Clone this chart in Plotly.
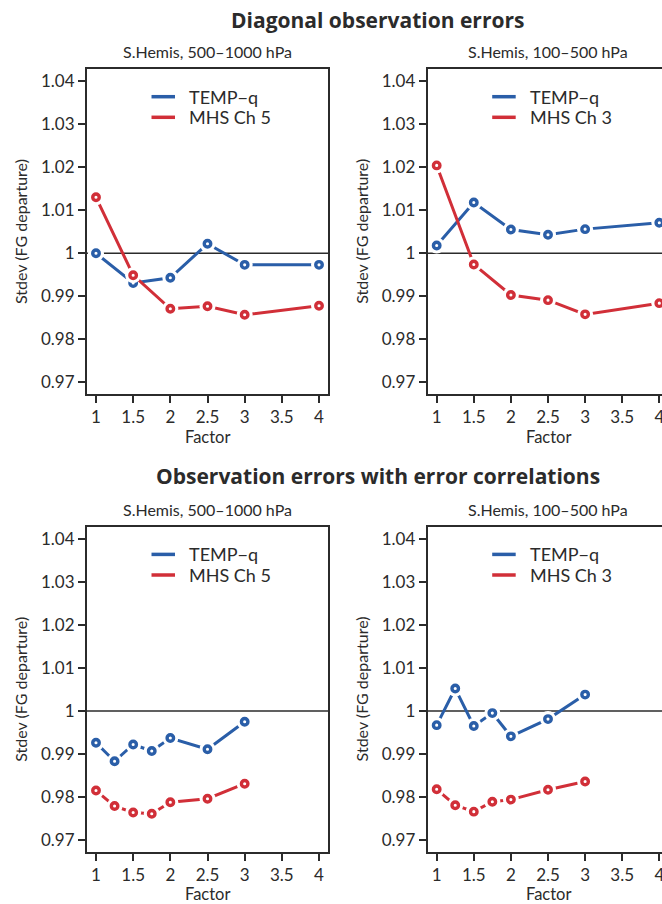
import plotly.graph_objects as go

# ---- data -------------------------------------------------------------
factor_diag = [1, 1.5, 2, 2.5, 3, 4]
factor_corr = [1, 1.25, 1.5, 1.75, 2, 2.5, 3]

diag_low_temp = [1.0000, 0.9931, 0.9943, 1.0022, 0.9973, 0.9973]
diag_low_mhs = [1.0130, 0.9949, 0.9871, 0.9877, 0.9857, 0.9878]
diag_high_temp = [1.0018, 1.0118, 1.0055, 1.0043, 1.0056, 1.0071]
diag_high_mhs = [1.0204, 0.9974, 0.9903, 0.9891, 0.9858, 0.9884]

corr_low_temp = [0.9926, 0.9883, 0.9922, 0.9907, 0.9937, 0.9911, 0.9975]
corr_low_mhs = [0.9815, 0.9779, 0.9764, 0.9761, 0.9788, 0.9796, 0.9831]
corr_high_temp = [0.9967, 1.0052, 0.9965, 0.9995, 0.9941, 0.9981, 1.0038]
corr_high_mhs = [0.9818, 0.9781, 0.9766, 0.9789, 0.9794, 0.9817, 0.9836]

series_temp = "TEMP\u2212q"
series_mhs_low = "MHS Ch 5"
series_mhs_high = "MHS Ch 3"

panel_titles = ["S.Hemis, 500\u20131000 hPa", "S.Hemis, 100\u2013500 hPa",
                "S.Hemis, 500\u20131000 hPa", "S.Hemis, 100\u2013500 hPa"]
block_titles = ["Diagonal observation errors",
                "Observation errors with error correlations"]

y_tickvals = [0.97, 0.98, 0.99, 1.0, 1.01, 1.02, 1.03, 1.04]
y_ticktext = ["0.97", "0.98", "0.99", "1", "1.01", "1.02", "1.03", "1.04"]
x_tickvals = [1, 1.5, 2, 2.5, 3, 3.5, 4]
x_ticktext = ["1", "1.5", "2", "2.5", "3", "3.5", "4"]

# ---- styling ----------------------------------------------------------
W, H = 662, 904
BLUE = "#2a5ea8"
RED = "#d12f38"
INK = "#2b2b2b"
FONT = "Lato"
HEAD_FONT = "Open Sans"

# panel boxes in pixels: (left, right, top, bottom); right panels run past the page edge
panels = [
    (87.0, 328.0, 69.0, 394.0),
    (427.7, 668.3, 69.0, 394.0),
    (87.0, 328.0, 526.7, 851.7),
    (427.7, 668.3, 526.7, 851.7),
]
X_RANGE = [0.879, 4.121]
Y_RANGE = [0.9673, 1.0428]


def px_x(v):
    return v / W


def px_y(v):
    return 1 - v / H


panel_data = [
    (factor_diag, diag_low_temp, diag_low_mhs, series_mhs_low),
    (factor_diag, diag_high_temp, diag_high_mhs, series_mhs_high),
    (factor_corr, corr_low_temp, corr_low_mhs, series_mhs_low),
    (factor_corr, corr_high_temp, corr_high_mhs, series_mhs_high),
]

fig = go.Figure()
layout = dict(
    width=W, height=H,
    margin=dict(l=0, r=0, t=0, b=0, pad=0),
    paper_bgcolor="white", plot_bgcolor="white",
    showlegend=False,
    font=dict(family=FONT, color=INK),
)
shapes = []
annotations = []

for i, (box, (xs, temp, mhs, mhs_name)) in enumerate(zip(panels, panel_data)):
    left, right, top, bottom = box
    idx = "" if i == 0 else str(i + 1)
    xa, ya = "x" + idx, "y" + idx
    clipped_right = min(right, W)
    # extend the x range so that the visible part keeps the same scale
    unit_px = (right - left) / (X_RANGE[1] - X_RANGE[0])
    x_hi = X_RANGE[0] + (clipped_right - left) / unit_px
    is_left_col = i % 2 == 0

    layout["xaxis" + idx] = dict(
        domain=[px_x(left), px_x(clipped_right)], anchor=ya,
        range=[X_RANGE[0], x_hi], tickvals=x_tickvals, ticktext=x_ticktext,
        ticks="outside", ticklen=7, tickwidth=1.5, tickcolor=INK,
        showline=True, linecolor=INK, linewidth=2, mirror=True,
        showgrid=False, zeroline=False, automargin=False,
        tickfont=dict(family=FONT, size=17, color=INK),
        ticklabeloverflow="allow",
    )
    layout["yaxis" + idx] = dict(
        domain=[px_y(bottom), px_y(top)], anchor=xa,
        range=Y_RANGE, tickvals=y_tickvals, ticktext=y_ticktext,
        ticks="outside", ticklen=7, tickwidth=1.5, tickcolor=INK,
        showline=True, linecolor=INK, linewidth=2, mirror=is_left_col,
        showgrid=False, zeroline=False, automargin=False,
        tickfont=dict(family=FONT, size=17, color=INK),
    )

    # reference line at 1
    shapes.append(dict(type="line", xref=xa + " domain", yref=ya,
                       x0=0, x1=1, y0=1, y1=1,
                       line=dict(color=INK, width=1.5), layer="below"))

    for ys, color, name in ((temp, BLUE, series_temp), (mhs, RED, mhs_name)):
        fig.add_trace(go.Scatter(x=xs, y=ys, mode="lines", name=name,
                                 line=dict(color=color, width=3),
                                 xaxis=xa, yaxis=ya, hoverinfo="skip"))
        # white halo that opens a gap in the line around each point
        fig.add_trace(go.Scatter(x=xs, y=ys, mode="markers", showlegend=False,
                                 marker=dict(size=16, color="white"),
                                 xaxis=xa, yaxis=ya, hoverinfo="skip"))
        fig.add_trace(go.Scatter(x=xs, y=ys, mode="markers", name=name,
                                 marker=dict(size=6.5, color="white",
                                             line=dict(color=color, width=3.4)),
                                 xaxis=xa, yaxis=ya))

    # legend drawn inside the panel
    for row, (color, name) in enumerate(((BLUE, series_temp), (RED, mhs_name))):
        yy = top + 27.7 + row * 20.6
        shapes.append(dict(type="line", xref="paper", yref="paper",
                           x0=px_x(left + 64.5), x1=px_x(left + 88),
                           y0=px_y(yy), y1=px_y(yy),
                           line=dict(color=color, width=3.5)))
        annotations.append(dict(text=name, xref="paper", yref="paper",
                                x=px_x(left + 100.3), y=px_y(yy),
                                xanchor="left", yanchor="middle", showarrow=False,
                                font=dict(family=FONT, size=18, color=INK)))

    # panel title
    annotations.append(dict(text=panel_titles[i], xref="paper", yref="paper",
                            x=px_x((left + right) / 2), y=px_y(top - 17),
                            xanchor="center", yanchor="middle", showarrow=False,
                            font=dict(family=FONT, size=16, color=INK)))
    # axis titles
    annotations.append(dict(text="Factor", xref="paper", yref="paper",
                            x=px_x((left + right) / 2), y=px_y(bottom + 42.5),
                            xanchor="center", yanchor="middle", showarrow=False,
                            font=dict(family=FONT, size=16.5, color=INK)))
    annotations.append(dict(text="Stdev (FG departure)", xref="paper", yref="paper",
                            x=px_x(left - 66.5), y=px_y((top + bottom) / 2),
                            xanchor="center", yanchor="middle", showarrow=False,
                            textangle=-90,
                            font=dict(family=FONT, size=16, color=INK)))

# block headings
for title, yy in zip(block_titles, (20.0, 475.5)):
    annotations.append(dict(text="<b>" + title + "</b>", xref="paper", yref="paper",
                            x=px_x((87.0 + 668.3) / 2), y=px_y(yy),
                            xanchor="center", yanchor="middle", showarrow=False,
                            font=dict(family=HEAD_FONT, size=21, color=INK)))

layout["shapes"] = shapes
layout["annotations"] = annotations
fig.update_layout(**layout)

fig.write_html("out.html")
